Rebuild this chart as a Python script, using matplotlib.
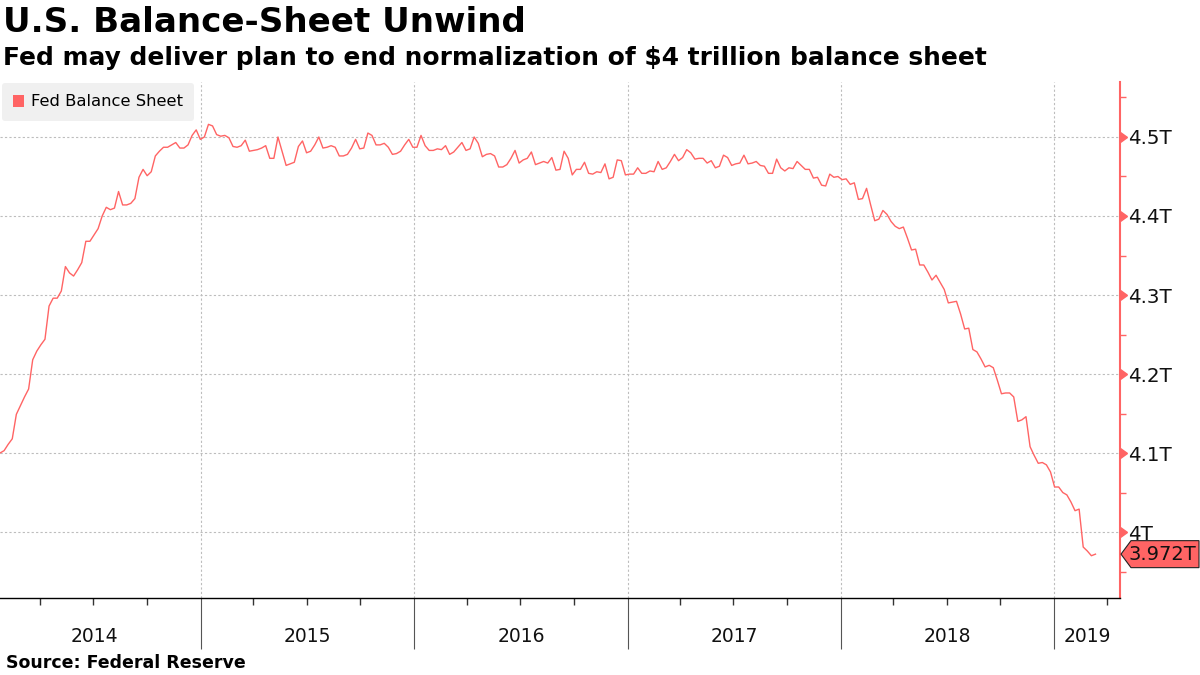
import matplotlib
matplotlib.use("Agg")
import matplotlib.pyplot as plt
import matplotlib.transforms as mtrans
import matplotlib.dates as mdates
from matplotlib.patches import Polygon, Patch
import pandas as pd

plt.rcParams['font.family'] = ['DejaVu Sans']

# ---- data (weekly, trillions of USD) ----
start_date = "2014-01-22"
balance_trillions = [
    4.100, 4.103, 4.111, 4.118, 4.149, 4.160, 4.171, 4.181, 4.218, 4.229,
    4.237, 4.244, 4.286, 4.296, 4.296, 4.305, 4.336, 4.328, 4.324, 4.332,
    4.341, 4.368, 4.368, 4.376, 4.384, 4.400, 4.411, 4.408, 4.410, 4.431,
    4.414, 4.414, 4.416, 4.422, 4.449, 4.459, 4.451, 4.456, 4.476, 4.482,
    4.487, 4.487, 4.490, 4.493, 4.486, 4.486, 4.490, 4.502, 4.509, 4.497,
    4.500, 4.516,
    4.514, 4.503, 4.501, 4.502, 4.499, 4.488, 4.487, 4.489, 4.496, 4.482,
    4.483, 4.484, 4.486, 4.489, 4.473, 4.473, 4.500, 4.482, 4.464, 4.466,
    4.468, 4.488, 4.495, 4.480, 4.482, 4.490, 4.500, 4.486, 4.487, 4.489,
    4.487, 4.476, 4.476, 4.478, 4.486, 4.497, 4.485, 4.486, 4.505, 4.502,
    4.490, 4.490, 4.492, 4.487, 4.478, 4.479, 4.482, 4.490, 4.497, 4.487,
    4.487, 4.502, 4.489, 4.483, 4.483, 4.485, 4.484, 4.489, 4.478, 4.481,
    4.487, 4.493, 4.483, 4.485, 4.500, 4.492, 4.475, 4.478, 4.479, 4.476,
    4.462, 4.462, 4.465, 4.473, 4.483, 4.467, 4.471, 4.473, 4.481, 4.465,
    4.467, 4.469, 4.467, 4.474, 4.458, 4.459, 4.482, 4.473, 4.452, 4.459,
    4.459, 4.468, 4.454, 4.453, 4.456, 4.455, 4.466, 4.447, 4.449, 4.471,
    4.470, 4.452,
    4.453, 4.453, 4.461, 4.454, 4.454, 4.457, 4.456, 4.469, 4.459, 4.461,
    4.469, 4.478, 4.470, 4.474, 4.484, 4.480, 4.472, 4.473, 4.473, 4.467,
    4.470, 4.461, 4.463, 4.477, 4.474, 4.464, 4.466, 4.467, 4.477, 4.466,
    4.467, 4.469, 4.464, 4.463, 4.454, 4.454, 4.472, 4.461, 4.457, 4.461,
    4.460, 4.469, 4.464, 4.459, 4.459, 4.448, 4.449, 4.439, 4.438, 4.453,
    4.449, 4.450, 4.446, 4.447, 4.440, 4.442, 4.421, 4.422, 4.435, 4.414,
    4.394, 4.396, 4.407, 4.402, 4.393, 4.387, 4.384, 4.386, 4.372, 4.357,
    4.358, 4.338, 4.338, 4.329, 4.319, 4.325, 4.316, 4.307, 4.290,
    4.291, 4.292, 4.276, 4.257, 4.258, 4.231, 4.228, 4.219, 4.209, 4.211,
    4.208, 4.192, 4.175, 4.176, 4.176, 4.171, 4.140, 4.142, 4.146, 4.108,
    4.097, 4.087, 4.088, 4.085, 4.076, 4.057, 4.057, 4.050, 4.047, 4.038,
    4.027, 4.029, 3.981, 3.976, 3.970, 3.972,
]
series_name = "Fed Balance Sheet"
years = [2014, 2015, 2016, 2017, 2018, 2019]
y_ticks = [4.0, 4.1, 4.2, 4.3, 4.4, 4.5]
y_tick_labels = ["4T", "4.1T", "4.2T", "4.3T", "4.4T", "4.5T"]
y_minor_ticks = [3.95, 4.05, 4.15, 4.25, 4.35, 4.45, 4.55]

title = "U.S. Balance-Sheet Unwind"
subtitle = "Fed may deliver plan to end normalization of $4 trillion balance sheet"
source = "Source: Federal Reserve"

RED = "#ff6464"
GRID = "#bdbdbd"

dates = pd.date_range(start_date, periods=len(balance_trillions), freq="7D")

W, H = 1200, 675
fig = plt.figure(figsize=(W / 100, H / 100), dpi=100)
ax_left, ax_right, ax_top, ax_bottom = 0, 1120, 82, 598
ax = fig.add_axes([ax_left / W, 1 - ax_bottom / H, (ax_right - ax_left) / W, (ax_bottom - ax_top) / H])

ax.plot(dates, balance_trillions, color=RED, lw=1.0, zorder=3)

x_min = pd.Timestamp(start_date)
x_max = x_min + pd.Timedelta(weeks=274)
ax.set_xlim(x_min, x_max)
ax.set_ylim(3.9165, 4.5696)

# grid
year_starts = [pd.Timestamp(f"{y}-01-01") for y in years[1:]]
for d in year_starts:
    ax.axvline(d, color=GRID, lw=0.8, ls=(0, (2, 2)), zorder=1)
for v in y_ticks:
    ax.axhline(v, color=GRID, lw=0.8, ls=(0, (2, 2)), zorder=1)

# spines
for s in ["left", "top"]:
    ax.spines[s].set_visible(False)
ax.spines["right"].set_color(RED)
ax.spines["right"].set_linewidth(1.5)
ax.spines["bottom"].set_color("black")
ax.spines["bottom"].set_linewidth(1.0)

# y axis on right
ax.yaxis.tick_right()
ax.set_yticks(y_ticks)
ax.set_yticklabels(y_tick_labels)
ax.set_yticks(y_minor_ticks, minor=True)
ax.tick_params(axis="y", which="major", length=0, pad=6, labelsize=14.3, labelcolor="#111111")
ax.tick_params(axis="y", which="minor", length=4, width=1.0, color=RED, direction="out")
yt = mtrans.blended_transform_factory(ax.transAxes, ax.transData)
ax.plot([1.0] * len(y_ticks), y_ticks, ls="none", marker=9, markersize=7,
        color=RED, transform=yt, clip_on=False, zorder=5)

# x axis: year separators + quarterly minor ticks
ax.set_xticks(year_starts)
ax.set_xticklabels([""] * len(year_starts))
quarters = [d for d in pd.date_range("2014-04-01", x_max, freq="QS") if d.month != 1]
ax.set_xticks(quarters, minor=True)
ax.tick_params(axis="x", which="major", length=37, width=0.8, color="#555555", direction="out")
ax.tick_params(axis="x", which="minor", length=5, width=1.0, color="#333333", direction="out")

xt = mtrans.blended_transform_factory(ax.transData, fig.transFigure)
xmin_num, xmax_num = ax.get_xlim()
for y in years:
    a = mdates.date2num(pd.Timestamp(f"{y}-01-01"))
    b = mdates.date2num(pd.Timestamp(f"{y + 1}-01-01"))
    mid = (a + b) / 2
    if mid < xmin_num or mid > xmax_num:
        mid = (max(a, xmin_num) + min(b, xmax_num)) / 2
    ax.text(mid, 1 - 637 / H, str(y), transform=xt, ha="center", va="center",
            fontsize=13.5, color="#111111")

# legend
leg = ax.legend(handles=[Patch(facecolor=RED, edgecolor="none", label=series_name)],
                loc="upper left", bbox_to_anchor=(2 / W, 1 - 83 / H),
                bbox_transform=fig.transFigure, borderaxespad=0,
                frameon=True, facecolor="#f0f0f0", edgecolor="none", framealpha=1,
                fontsize=11.8, handlelength=0.65, handleheight=0.75,
                handletextpad=0.4, borderpad=0.7)
leg.get_frame().set_boxstyle("round,pad=0,rounding_size=0.2")

# last value tag
last = balance_trillions[-1]
fig.canvas.draw()
_, y_disp = ax.transData.transform((mdates.date2num(dates[-1]), last))
x_disp = ax.transAxes.transform((1.0, 0))[0]
inv = fig.transFigure.inverted()
hh = 13.5
pts_disp = [(x_disp + 1, y_disp), (x_disp + 11, y_disp + hh), (W - 1, y_disp + hh),
            (W - 1, y_disp - hh), (x_disp + 11, y_disp - hh)]
pts_fig = inv.transform(pts_disp)
fig.patches.append(Polygon(pts_fig, closed=True, facecolor=RED, edgecolor="#222222",
                           lw=0.8, transform=fig.transFigure, zorder=10))
tx, ty = inv.transform((x_disp + 8, y_disp))
fig.text(tx, ty, f"{last:.3f}T", ha="left", va="center", fontsize=14, color="#111111", zorder=11)

# titles
fig.text(3 / W, 1 - 6 / H, title, ha="left", va="top", fontsize=24.6, fontweight="bold", color="black")
fig.text(3 / W, 1 - 46 / H, subtitle, ha="left", va="top", fontsize=17.9, fontweight="bold", color="black")
fig.text(6 / W, 1 - 654 / H, source, ha="left", va="top", fontsize=12.5, fontweight="bold", color="black")

fig.savefig("out.png", dpi=100, facecolor="white")
